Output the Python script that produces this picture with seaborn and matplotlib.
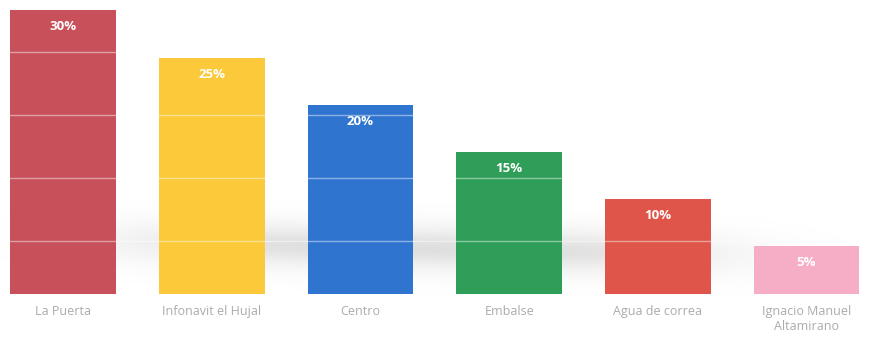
import numpy as np
import pandas as pd
import matplotlib
matplotlib.use("Agg")
import matplotlib.pyplot as plt
import seaborn as sns

categories = ["La Puerta", "Infonavit el Hujal", "Centro", "Embalse",
              "Agua de correa", "Ignacio Manuel\nAltamirano"]
values = [30, 25, 20, 15, 10, 5]
value_labels = ["30%", "25%", "20%", "15%", "10%", "5%"]
colors = ["#C8505B", "#FBC93A", "#2F74CF", "#2E9E58", "#DF5549", "#F6AEC6"]
guide_levels = [5.6, 12.2, 18.9, 25.6]

sns.set_theme(style="white")
plt.rcParams["font.family"] = ["Open Sans", "DejaVu Sans"]

df = pd.DataFrame({"zona": categories, "pct": values})

fig = plt.figure(figsize=(8.69, 3.41), dpi=100)
ax = fig.add_axes([0, 0, 1, 1])

# soft grey floor shadow behind the bars, slightly tilted
gx = np.linspace(-0.424, 5.42, 400)
gy = np.linspace(-5.0, 31.4, 200)
X, Y = np.meshgrid(gx, gy)
centre = 5.3 - 0.35 * (X - 1.0)
shade = np.exp(-((Y - centre) / 2.4) ** 2) * np.exp(-((X - 2.4) / 2.1) ** 4)
ax.imshow(shade, extent=(gx[0], gx[-1], gy[0], gy[-1]), origin="lower",
          cmap="Greys", vmin=0, vmax=4.6, aspect="auto", zorder=0,
          interpolation="bilinear")

sns.barplot(data=df, x="zona", y="pct", hue="zona", palette=colors,
            width=0.71, saturation=1, legend=False, ax=ax, zorder=2,
            linewidth=0)

# faint horizontal guides showing through the bars
for lvl in guide_levels:
    ax.axhline(lvl, color="white", lw=1.0, alpha=0.45, zorder=3)

for i, (v, lab) in enumerate(zip(values, value_labels)):
    ax.text(i, v - 1.75, lab, ha="center", va="center", color="white",
            fontsize=9.5, fontweight="bold", zorder=4)

ax.set_xlim(-0.424, 5.42)
ax.set_ylim(-5.02, 31.1)
for s in ax.spines.values():
    s.set_visible(False)
ax.set_yticks([])
ax.set_xticks([])
ax.set_xlabel("")
ax.set_ylabel("")
for i, c in enumerate(categories):
    ax.text(i, -1.2, c, ha="center", va="top", color="#ABABAB",
            fontsize=9, linespacing=1.2)

fig.savefig("out.png", dpi=100)
